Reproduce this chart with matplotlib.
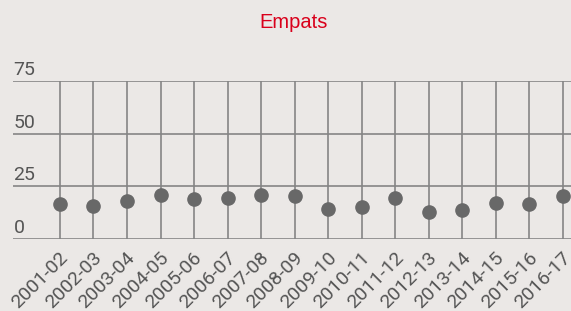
import numpy as np
import matplotlib
matplotlib.use("Agg")
from matplotlib import pyplot as plt
from matplotlib.transforms import blended_transform_factory, ScaledTranslation

# temporades i empats
seasons = ["2001-02", "2002-03", "2003-04", "2004-05", "2005-06", "2006-07",
           "2007-08", "2008-09", "2009-10", "2010-11", "2011-12", "2012-13",
           "2013-14", "2014-15", "2015-16", "2016-17"]
draws = [16.5, 15.7, 17.9, 21, 18.8, 19.5, 21, 20.5, 14.4, 15.2, 19.5, 13,
         13.6, 17.3, 16.6, 20.2]
yticks = [0, 25, 50, 75]

bg = "#ebe8e6"
txt = "#555555"

fig = plt.figure(figsize=(5.71, 3.11), dpi=100, facecolor=bg)
ax = fig.add_axes([13/571, 1-239/311, 1-13/571, (239-81)/311])
ax.set_facecolor(bg)

x = np.arange(len(seasons))
ax.plot(x, draws, "o", color="#686868", markersize=9.5, zorder=3)

ax.set_xlim(-1.40, 15.24)
ax.set_ylim(0, 75)
ax.set_xticks(x)
ax.set_xticklabels(seasons, rotation=45, ha="right", va="top",
                   rotation_mode="anchor", fontsize=14, family="Roboto",
                   color=txt)
ax.tick_params(axis="x", length=0, pad=7)
off = ScaledTranslation(-1/100, 0, fig.dpi_scale_trans)
for lab in ax.get_xticklabels():
    lab.set_transform(lab.get_transform() + off)
ax.set_yticks(yticks)
ax.set_yticklabels([])
ax.tick_params(axis="y", length=0)

# linies de la graella
for v in yticks:
    ax.axhline(v, color="#858585", lw=1.2, zorder=1)
for xi in x:
    ax.axvline(xi, color="#858585", lw=1.2, zorder=1)

tr = blended_transform_factory(ax.transAxes, ax.transData)
for v in yticks:
    ax.text(0.001, v + 1.0, str(v), transform=tr, ha="left", va="bottom",
            fontsize=14, family="Roboto", color=txt)

for s in ax.spines.values():
    s.set_visible(False)

fig.text(293.5/571, 1-22/311, "Empats", ha="center", va="center",
         fontsize=14.5, family="Liberation Sans", color="#d9001b")

fig.savefig("out.png", dpi=100, facecolor=bg)
